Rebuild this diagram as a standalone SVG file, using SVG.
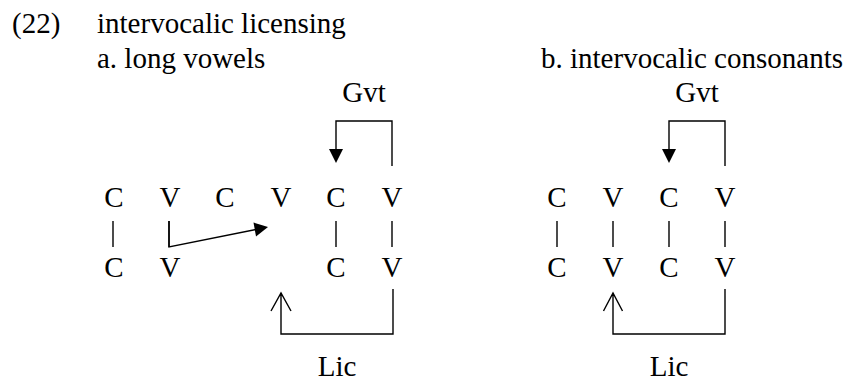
<svg xmlns="http://www.w3.org/2000/svg" width="846" height="381" viewBox="0 0 846 381">
<style>
text{font-family:"Liberation Serif","Times New Roman",serif;font-size:29px;fill:#000}
.m{text-anchor:middle}
.ln{fill:none;stroke:#000;stroke-width:1.4}
.hd{fill:#000;stroke:none}
</style>
<rect width="846" height="381" fill="#fff"/>
<g id="title">
<text x="12" y="33">(22)</text>
<text x="97" y="33">intervocalic licensing</text>
<text x="97" y="68">a. long vowels</text>
<text x="541" y="68">b. intervocalic consonants</text>
</g>
<g id="a-skeleton">
<text class="m" x="114" y="207">C</text>
<text class="m" x="170" y="207">V</text>
<text class="m" x="225" y="207">C</text>
<text class="m" x="281" y="207">V</text>
<text class="m" x="336" y="207">C</text>
<text class="m" x="392" y="207">V</text>
<text class="m" x="114" y="277">C</text>
<text class="m" x="170" y="277">V</text>
<text class="m" x="336" y="277">C</text>
<text class="m" x="392" y="277">V</text>
</g>
<g id="b-skeleton">
<text class="m" x="557" y="207">C</text>
<text class="m" x="613" y="207">V</text>
<text class="m" x="669" y="207">C</text>
<text class="m" x="725" y="207">V</text>
<text class="m" x="557" y="277">C</text>
<text class="m" x="613" y="277">V</text>
<text class="m" x="669" y="277">C</text>
<text class="m" x="725" y="277">V</text>
</g>
<g id="labels">
<text class="m" x="364" y="102">Gvt</text>
<text class="m" x="697" y="102">Gvt</text>
<text class="m" x="337" y="376">Lic</text>
<text class="m" x="669" y="376">Lic</text>
</g>
<g id="connectors">
<path class="ln" d="M113 221V247M169 221V247M336 221V247M392 221V247"/>
<path class="ln" d="M557 221V247M613 221V247M669 221V247M725 221V247"/>
<path class="ln" d="M169 221V247L256 229.5"/>
<path class="hd" d="M268 227L253.5 222.5L256 236.5Z"/>
<path class="ln" d="M392 166V121H336V150"/>
<path class="hd" d="M336 163L329 149H343Z"/>
<path class="ln" d="M725 166V121H669V150"/>
<path class="hd" d="M669 163L662 149H676Z"/>
<path class="ln" d="M393 289V334H281V293M271 311L281 293L291 311"/>
<path class="ln" d="M725 289V334H613V293M603.5 311L613 293L622.5 311"/>
</g>
</svg>
